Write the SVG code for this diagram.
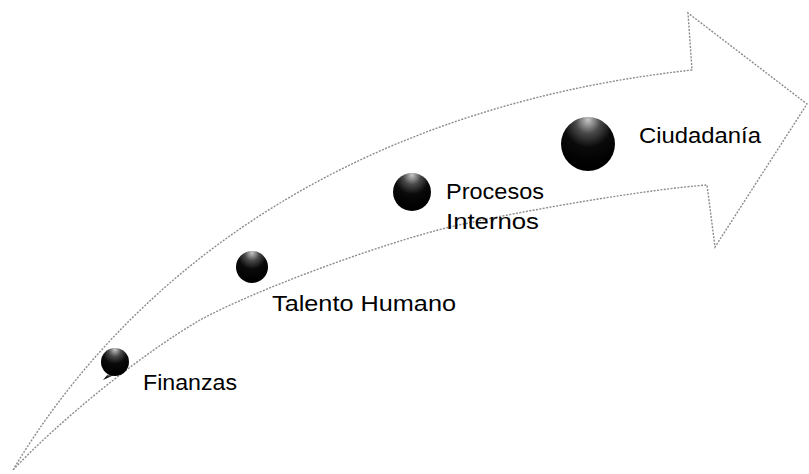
<svg xmlns="http://www.w3.org/2000/svg" width="809" height="474" viewBox="0 0 809 474">
  <defs>
    <radialGradient id="ball" cx="0.5" cy="0.15" r="0.75" fx="0.5" fy="0.05">
      <stop offset="0" stop-color="#c8c8c8"/>
      <stop offset="0.3" stop-color="#4a4a4a"/>
      <stop offset="0.6" stop-color="#0a0a0a"/>
      <stop offset="1" stop-color="#000"/>
    </radialGradient>
  </defs>
  <style>
    .arrow { fill: #fff; stroke: #8c8c8c; stroke-width: 1.4; stroke-dasharray: 2 1.4; stroke-linejoin: miter; }
    .ball { fill: url(#ball); }
    .lbl { font-family: "Liberation Sans", Arial, sans-serif; font-size: 22px; fill: #000; }
  </style>
  <rect width="809" height="474" fill="#fff"/>
  <g id="connectors">
    <path class="arrow" d="M13,470 C120,290 330,110 692,70 L688,13 L807,104 L715,247 L707,185 C650,189 525,210 450,227 C380,244 255,290 200,320 C140,355 60,420 13,470 Z"/>
  </g>
  <g id="finanzas">
    <path class="ball" d="M108,374 L103,380 L114,375 Z"/>
    <circle class="ball" cx="115" cy="362" r="14"/>
    <text class="lbl" x="143" y="390" textLength="94" lengthAdjust="spacingAndGlyphs">Finanzas</text>
  </g>
  <g id="talento">
    <circle class="ball" cx="252" cy="267" r="16"/>
    <text class="lbl" x="272" y="311" textLength="184" lengthAdjust="spacingAndGlyphs">Talento Humano</text>
  </g>
  <g id="procesos">
    <circle class="ball" cx="412" cy="192" r="19"/>
    <text class="lbl" x="446" y="199" textLength="98" lengthAdjust="spacingAndGlyphs">Procesos</text>
    <text class="lbl" x="446" y="229" textLength="93" lengthAdjust="spacingAndGlyphs">Internos</text>
  </g>
  <g id="ciudadania">
    <circle class="ball" cx="588" cy="144" r="27"/>
    <text class="lbl" x="639" y="143" textLength="122" lengthAdjust="spacingAndGlyphs">Ciudadanía</text>
  </g>
</svg>
